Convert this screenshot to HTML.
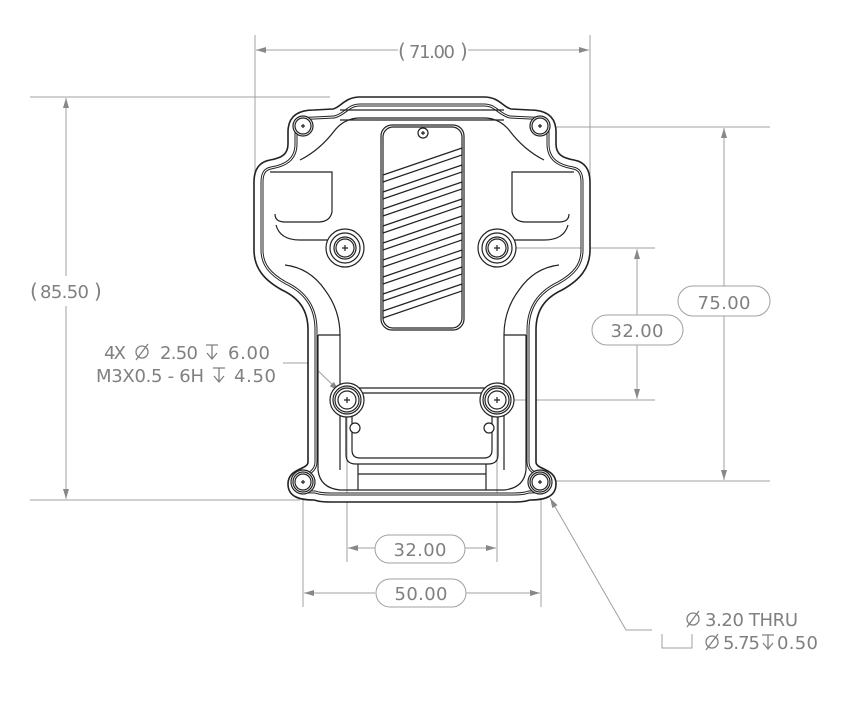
<!DOCTYPE html>
<html><head><meta charset="utf-8"><style>
html,body{margin:0;padding:0;background:#fff;}
svg{display:block}
text{font-family:"DejaVu Sans","Liberation Sans",sans-serif;fill:#808080;}
</style></head><body>
<svg width="858" height="704" viewBox="0 0 858 704" xmlns="http://www.w3.org/2000/svg">
<defs>
<path id="P" d="M 360 97 L 484 97 C 499 97 503 107 511 109 L 530 110 C 548 110 556 118 556 132 L 556 144 C 556 154 562 158 574 160 C 585 162 590 170 590 182 L 590 250 C 590 268 580 280 562 290 C 545 298 536 310 536 330 L 536 462 C 536 470 556 468 556 484 C 556 496 546 500 530 500 C 524 502 518 502 510 502 L 334 502 C 326 502 320 502 314 500 C 298 500 288 496 288 484 C 288 468 308 470 308 462 L 308 330 C 308 310 299 298 282 290 C 264 280 254 268 254 250 L 254 182 C 254 170 259 162 270 160 C 282 158 288 154 288 144 L 288 132 C 288 118 296 110 314 110 L 333 109 C 341 107 345 97 360 97 Z"/>
<clipPath id="cp"><use href="#P"/></clipPath>
<marker id="ar" viewBox="0 0 10 6" refX="10" refY="3" markerWidth="10" markerHeight="6" orient="auto-start-reverse" markerUnits="userSpaceOnUse"><path d="M0 0 L10 3 L0 6 Z" fill="#888"/></marker>
<g id="dia" fill="none" stroke="#808080" stroke-width="1.3"><circle cx="7" cy="-6" r="6"/><line x1="1" y1="2" x2="13" y2="-14"/></g>
<g id="dep" fill="none" stroke="#808080" stroke-width="1.3"><path d="M0 -13 H12 M6 -13 V1 M1 -5 L6 1 L11 -5"/></g>
</defs>

<g stroke="#a0a0a0" stroke-width="1" fill="none">
<line x1="255" y1="35" x2="255" y2="250"/>
<line x1="590" y1="35" x2="590" y2="250"/>
<line x1="256" y1="50" x2="398" y2="50" marker-start="url(#ar)"/>
<line x1="468" y1="50" x2="589" y2="50" marker-end="url(#ar)"/>
<line x1="30" y1="97" x2="330" y2="97"/>
<line x1="30" y1="500" x2="300" y2="500"/>
<line x1="66" y1="98" x2="66" y2="276" marker-start="url(#ar)"/>
<line x1="66" y1="306" x2="66" y2="499" marker-end="url(#ar)"/>
<line x1="548" y1="127" x2="770" y2="127"/>
<line x1="550" y1="481" x2="770" y2="481"/>
<line x1="724" y1="128" x2="724" y2="286" marker-start="url(#ar)"/>
<line x1="724" y1="316" x2="724" y2="480" marker-end="url(#ar)"/>
<line x1="505" y1="248" x2="655" y2="248"/>
<line x1="505" y1="400" x2="655" y2="400"/>
<line x1="637" y1="249" x2="637" y2="315" marker-start="url(#ar)"/>
<line x1="637" y1="345" x2="637" y2="399" marker-end="url(#ar)"/>
<line x1="347" y1="405" x2="347" y2="562"/>
<line x1="497" y1="405" x2="497" y2="562"/>
<line x1="303" y1="488" x2="303" y2="607"/>
<line x1="541" y1="488" x2="541" y2="607"/>
<line x1="348" y1="548" x2="375" y2="548" marker-start="url(#ar)"/>
<line x1="465" y1="548" x2="496" y2="548" marker-end="url(#ar)"/>
<line x1="304" y1="593" x2="375" y2="593" marker-start="url(#ar)"/>
<line x1="466" y1="593" x2="540" y2="593" marker-end="url(#ar)"/>
<line x1="283" y1="363" x2="310" y2="363"/>
<line x1="310" y1="363" x2="339" y2="391" marker-end="url(#ar)"/>
<line x1="652" y1="630" x2="626" y2="630"/>
<line x1="626" y1="630" x2="550" y2="498" marker-end="url(#ar)"/>
<polyline points="662,634 662,648 692,648 692,634"/>
<rect x="678" y="286" width="92" height="30" rx="15"/>
<rect x="592" y="315" width="91" height="30" rx="15"/>
<rect x="375" y="535" width="90" height="28" rx="14"/>
<rect x="376" y="579" width="90" height="28" rx="14"/>
</g>
<g font-size="18">
<text x="398" y="58" font-size="20">(</text><text x="409" y="58" textLength="46">71.00</text><text x="460" y="58" font-size="20">)</text>
<text x="30" y="298" font-size="20">(</text><text x="40" y="298" textLength="49">85.50</text><text x="94" y="298" font-size="20">)</text>
<text x="724" y="309" text-anchor="middle" textLength="53">75.00</text>
<text x="637" y="337" text-anchor="middle" textLength="53">32.00</text>
<text x="420" y="556" text-anchor="middle" textLength="53">32.00</text>
<text x="421" y="600" text-anchor="middle" textLength="53">50.00</text>
<text x="104" y="359" textLength="22">4X</text>
<use href="#dia" x="135" y="358"/>
<text x="160" y="359" textLength="38">2.50</text>
<use href="#dep" x="206" y="358"/>
<text x="228" y="359" textLength="42">6.00</text>
<text x="96" y="382" textLength="108">M3X0.5 - 6H</text>
<use href="#dep" x="213" y="381"/>
<text x="234" y="382" textLength="42">4.50</text>
<use href="#dia" x="686" y="625"/>
<text x="705" y="626" textLength="93">3.20 THRU</text>
<use href="#dia" x="705" y="648"/>
<text x="723" y="649" textLength="37">5.75</text>
<use href="#dep" x="762" y="648"/>
<text x="777" y="649" textLength="41">0.50</text>
</g>

<g clip-path="url(#cp)" fill="none">
<use href="#P" stroke="#222" stroke-width="4"/>
<use href="#P" stroke="#222" stroke-width="15"/>
<use href="#P" stroke="#fff" stroke-width="13"/>
<use href="#P" stroke="#222" stroke-width="19"/>
<use href="#P" stroke="#fff" stroke-width="17"/>
<use href="#P" stroke="#222" stroke-width="15"/>
<use href="#P" stroke="#fff" stroke-width="13"/>
</g>
<use href="#P" fill="none" stroke="#222" stroke-width="1.6"/>

<g fill="none" stroke="#222" stroke-width="1.2">
<path d="M270 172 L332 172 L332 212 Q330 222 318 222 L285 222 Q275 222 275 214"/>
<path d="M574 172 L512 172 L512 212 Q514 222 526 222 L559 222 Q569 222 569 214"/>
<path d="M276 225 Q280 240 300 240 L330 240"/>
<path d="M568 225 Q564 240 544 240 L514 240"/>
<path d="M285 265 Q310 268 325 290 Q340 310 340 335 L340 470"/>
<path d="M559 265 Q534 268 519 290 Q504 310 504 335 L504 470"/>
<path d="M318 335 L318 470 Q320 488 340 490 L504 490 Q524 488 526 470 L526 335"/>
<path d="M318 335 L340 335 M504 335 L526 335"/>
<path d="M340 110 L504 110 M340 120 L504 120"/>
<path d="M300 160 Q320 150 335 130 Q345 118 360 118 L484 118 Q499 118 509 130 Q524 150 544 160"/>
<rect x="381" y="125" width="83" height="205" rx="11"/>
<rect x="383" y="127" width="79" height="201" rx="10"/>
<path d="M357 388 L487 388 M357 393 L487 393"/>
<path d="M352 410 L352 450 Q352 458 360 458 L484 458 Q492 458 492 450 L492 410"/>
<path d="M346 412 L346 455 Q346 464 356 464 L488 464 Q498 464 498 455 L498 412"/>
<path d="M358 474 L486 474 M358 464 L358 490 M486 464 L486 490"/>
</g>
<g fill="#fff" stroke="#222" stroke-width="1.2">
<path d="M383 175 L462 148 L462 155 L383 182 Z"/>
<path d="M383 192 L462 165 L462 172 L383 199 Z"/>
<path d="M383 209 L462 182 L462 189 L383 216 Z"/>
<path d="M383 226 L462 199 L462 206 L383 233 Z"/>
<path d="M383 243 L462 216 L462 223 L383 250 Z"/>
<path d="M383 260 L462 233 L462 240 L383 267 Z"/>
<path d="M383 277 L462 250 L462 257 L383 284 Z"/>
<path d="M383 294 L462 267 L462 274 L383 301 Z"/>
<path d="M383 311 L462 284 L462 291 L383 318 Z"/>
</g>
<g fill="#fff" stroke="#222" stroke-width="1.2">
<g transform="translate(345,248)"><circle r="19"/><circle r="15"/><circle r="11"/><circle r="9"/><path d="M-3 0H3M0-3V3"/></g>
<g transform="translate(497,248)"><circle r="19"/><circle r="15"/><circle r="11"/><circle r="9"/><path d="M-3 0H3M0-3V3"/></g>
<g transform="translate(347,400)"><circle r="17"/><circle r="14"/><circle r="12"/><circle r="9"/><path d="M-3 0H3M0-3V3"/></g>
<g transform="translate(497,400)"><circle r="17"/><circle r="14"/><circle r="12"/><circle r="9"/><path d="M-3 0H3M0-3V3"/></g>
<g transform="translate(303,126)"><circle r="10"/><circle r="8"/><path d="M-2 0H2M0-2V2"/></g>
<g transform="translate(540,126)"><circle r="10"/><circle r="8"/><path d="M-2 0H2M0-2V2"/></g>
<g transform="translate(303,482)"><circle r="12"/><circle r="10"/><circle r="8"/><path d="M-2 0H2M0-2V2"/></g>
<g transform="translate(540,482)"><circle r="12"/><circle r="10"/><circle r="8"/><path d="M-2 0H2M0-2V2"/></g>
<g transform="translate(423,133)"><circle r="5"/><path d="M-2 0H2M0-2V2"/></g>
<circle cx="355" cy="428" r="5"/><circle cx="489" cy="428" r="5"/>
</g>
</svg>
</body></html>
